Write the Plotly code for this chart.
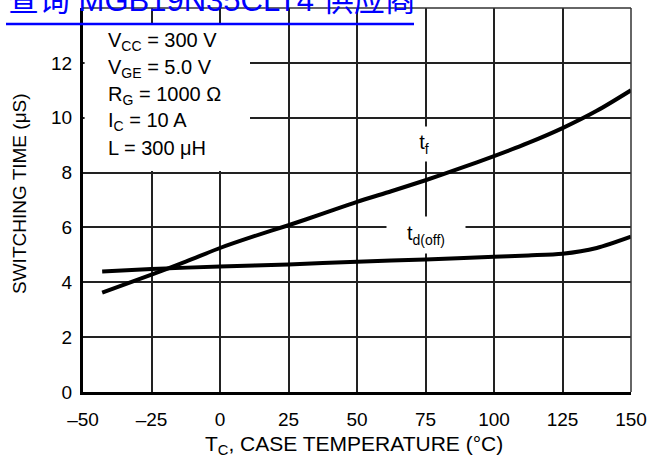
import plotly.graph_objects as go

# ---- data ----
temp_tf = [-43, -25, -12.5, 0, 12.5, 25, 37.5, 50, 62.5, 75, 87.5, 100, 112.5, 125, 137.5, 150]
t_f = [3.62, 4.28, 4.75, 5.25, 5.68, 6.08, 6.5, 6.93, 7.32, 7.72, 8.15, 8.6, 9.08, 9.62, 10.25, 11.0]

temp_td = [-43, -25, 0, 25, 50, 75, 100, 112.5, 125, 137.5, 150]
t_doff = [4.39, 4.48, 4.58, 4.65, 4.75, 4.83, 4.93, 4.98, 5.04, 5.25, 5.66]

x_ticks = [-50, -25, 0, 25, 50, 75, 100, 125, 150]
x_ticktext = ["\u201350", "\u201325", "0", "25", "50", "75", "100", "125", "150"]
y_ticks = [0, 2, 4, 6, 8, 10, 12, 14]
y_ticktext = ["0", "2", "4", "6", "8", "10", "12", "14"]

conditions = [
    "V<sub>CC</sub> = 300 V",
    "V<sub>GE</sub> = 5.0 V",
    "R<sub>G</sub> = 1000 \u03a9",
    "I<sub>C</sub> = 10 A",
    "L = 300 \u03bcH",
]

FONT = "Liberation Sans, Arial, Helvetica, sans-serif"
W, H = 654, 457
L, R, T, B = 83, 23, 8, 65
PW, PH = W - L - R, H - T - B


def px_x(p):
    return (p - L) / PW


def px_y(p):
    return 1 - (p - T) / PH


fig = go.Figure()
fig.add_trace(go.Scatter(x=temp_tf, y=t_f, mode="lines",
                         line=dict(color="black", width=4, shape="spline", smoothing=0.8),
                         showlegend=False, hoverinfo="skip"))
fig.add_trace(go.Scatter(x=temp_td, y=t_doff, mode="lines",
                         line=dict(color="black", width=4, shape="spline", smoothing=0.8),
                         showlegend=False, hoverinfo="skip"))

shapes = [
    # white box behind condition text
    dict(type="rect", xref="paper", yref="paper", layer="above",
         x0=px_x(84.6), x1=px_x(250), y0=px_y(171), y1=px_y(23.5),
         fillcolor="white", line=dict(width=0)),
    # top and right frame
    dict(type="line", xref="paper", yref="paper", x0=0, x1=1, y0=1, y1=1,
         line=dict(color="#333", width=1.5)),
    dict(type="line", xref="paper", yref="paper", x0=1, x1=1, y0=0, y1=1,
         line=dict(color="#333", width=1.5)),
    # link underline
    dict(type="line", xref="paper", yref="paper", x0=px_x(6), x1=px_x(414),
         y0=px_y(24), y1=px_y(24), line=dict(color="#0000FF", width=2.5)),
]

annotations = []
cond_y = [40, 66.5, 93, 119.5, 146]
for txt, py in zip(conditions, cond_y):
    annotations.append(dict(xref="paper", yref="paper", x=px_x(106), y=px_y(py + 2),
                            xanchor="left", yanchor="middle", text=txt, showarrow=False,
                            font=dict(family=FONT, size=20, color="black")))

annotations.append(dict(xref="x", yref="y", x=74.3, y=9.05, text="t<sub>f</sub>",
                        showarrow=False, bgcolor="white", width=26, height=32,
                        font=dict(family=FONT, size=20, color="black")))
annotations.append(dict(xref="x", yref="y", x=75.2, y=5.72, text="t<sub>d(off)</sub>",
                        showarrow=False, bgcolor="white", width=76, height=34,
                        font=dict(family=FONT, size=20, color="black")))
annotations.append(dict(xref="paper", yref="paper", x=px_x(6), y=px_y(1),
                        xanchor="left", yanchor="middle",
                        text="\u67e5\u8be2 MGB19N35CLT4 \u4f9b\u5e94\u5546", showarrow=False,
                        font=dict(family="Liberation Sans, Noto Sans CJK SC, sans-serif",
                                  size=31, color="#0000FF")))
# axis titles
annotations.append(dict(xref="paper", yref="paper", x=px_x(354), y=px_y(445),
                        xanchor="center", yanchor="middle",
                        text="T<sub>C</sub>, CASE TEMPERATURE (\u00b0C)", showarrow=False,
                        font=dict(family=FONT, size=21, color="black")))
annotations.append(dict(xref="paper", yref="paper", x=px_x(19), y=px_y(194),
                        xanchor="center", yanchor="middle", textangle=-90,
                        text="SWITCHING TIME (\u03bcS)", showarrow=False,
                        font=dict(family=FONT, size=19, color="black")))

fig.update_layout(
    width=W, height=H,
    margin=dict(l=L, r=R, t=T, b=B),
    paper_bgcolor="white", plot_bgcolor="white",
    font=dict(family=FONT, size=18, color="black"),
    shapes=shapes, annotations=annotations,
    showlegend=False,
)
fig.update_xaxes(range=[-50, 150], tickvals=x_ticks, ticktext=x_ticktext,
                 showgrid=True, gridcolor="#222", gridwidth=1.5,
                 showline=True, linecolor="black", linewidth=3,
                 ticks="", ticklabelstandoff=8, tickfont=dict(family=FONT, size=19),
                 zeroline=False)
fig.update_yaxes(range=[0, 14], tickvals=y_ticks, ticktext=y_ticktext,
                 showgrid=True, gridcolor="#222", gridwidth=1.5,
                 showline=True, linecolor="black", linewidth=3,
                 ticks="", ticklabelstandoff=4, tickfont=dict(family=FONT, size=19),
                 zeroline=False)

fig.write_html("out.html", config={"displayModeBar": False},
               post_script="document.body.style.margin='0';")
